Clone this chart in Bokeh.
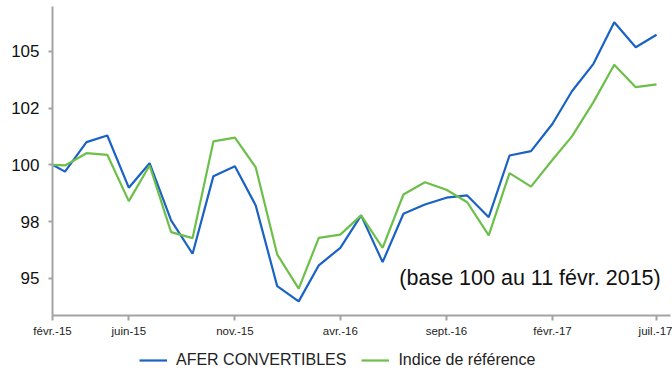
import pandas as pd
from bokeh.plotting import figure
from bokeh.models import FixedTicker, Legend, LegendItem, Label, Range1d
from bokeh.embed import file_html
from bokeh.resources import INLINE

# ---- data ----
dates = ["2015-02-11", "2015-03-01", "2015-04-01", "2015-05-01", "2015-06-01",
         "2015-07-01", "2015-08-01", "2015-09-01", "2015-10-01", "2015-11-01",
         "2015-12-01", "2016-01-01", "2016-02-01", "2016-03-01", "2016-04-01",
         "2016-05-01", "2016-06-01", "2016-07-01", "2016-08-01", "2016-09-01",
         "2016-10-01", "2016-11-01", "2016-12-01", "2017-01-01", "2017-02-01",
         "2017-03-01", "2017-04-01", "2017-05-01", "2017-06-01", "2017-07-01"]

afer = [100.0, 99.70, 101.00, 101.29, 98.99, 100.07, 97.55, 96.08, 99.50, 99.94,
        98.21, 94.65, 93.98, 95.57, 96.34, 97.77, 95.71, 97.84, 98.25, 98.55,
        98.65, 97.69, 100.41, 100.60, 101.81, 103.24, 104.45, 106.28, 105.18, 105.73]

indice = [100.0, 99.97, 100.51, 100.44, 98.40, 99.97, 97.03, 96.77, 101.03, 101.20,
          99.89, 96.05, 94.54, 96.78, 96.92, 97.77, 96.34, 98.69, 99.23, 98.90,
          98.35, 96.89, 99.63, 99.04, 100.22, 101.25, 102.76, 104.41, 103.42, 103.54]

tick_dates = ["2015-02-11", "2015-06-01", "2015-11-01", "2016-04-01",
              "2016-09-01", "2017-02-01", "2017-07-01"]
tick_labels = ["févr.-15", "juin-15", "nov.-15", "avr.-16",
               "sept.-16", "févr.-17", "juil.-17"]

y_ticks = [95, 97.5, 100, 102.5, 105]
y_tick_labels = ["95", "98", "100", "102", "105"]

series_names = ["AFER CONVERTIBLES", "Indice de référence"]
note = "(base 100 au 11 févr. 2015)"

# ---- derived positions (days since base date) ----
base = pd.Timestamp(dates[0])
x = [(pd.Timestamp(d) - base).days for d in dates]
xt = [(pd.Timestamp(d) - base).days for d in tick_dates]

FONT = "Liberation Sans"
BLUE = "#1a62c4"
GREEN = "#6cc04a"
AXIS = "#a3a3a3"

X_MIN, X_MAX = 0, 891
Y_MIN, Y_MAX = 93.36, 106.97

p = figure(width=672, height=371, output_backend="svg", toolbar_location=None,
           x_range=Range1d(-75, 894), y_range=Range1d(90.89, 107.24),
           min_border_left=0, min_border_right=0, min_border_top=0,
           min_border_bottom=0)
p.outline_line_color = None
p.grid.visible = False
p.background_fill_color = "white"
p.border_fill_color = "white"

r1 = p.line(x, afer, line_color=BLUE, line_width=2.2)
r2 = p.line(x, indice, line_color=GREEN, line_width=2.2)

# x axis (drawn at the bottom of the value range)
xa = p.xaxis[0]
xa.fixed_location = Y_MIN
xa.bounds = (X_MIN, X_MAX)
xa.ticker = FixedTicker(ticks=xt)
xa.major_label_overrides = {t: l for t, l in zip(xt, tick_labels)}
xa.axis_line_color = AXIS
xa.axis_line_width = 2
xa.major_tick_line_color = AXIS
xa.major_tick_line_width = 2
xa.major_tick_in = 0
xa.major_tick_out = 5
xa.minor_tick_line_color = None
xa.major_label_text_font = FONT
xa.major_label_text_font_size = "11.5px"
xa.major_label_text_color = "#222222"
xa.major_label_standoff = 5

# y axis (drawn at the first date)
ya = p.yaxis[0]
ya.fixed_location = X_MIN
ya.bounds = (Y_MIN, Y_MAX)
ya.ticker = FixedTicker(ticks=y_ticks)
ya.major_label_overrides = {t: l for t, l in zip(y_ticks, y_tick_labels)}
ya.axis_line_color = AXIS
ya.axis_line_width = 2
ya.major_tick_line_color = AXIS
ya.major_tick_line_width = 2
ya.major_tick_in = 0
ya.major_tick_out = 4
ya.minor_tick_line_color = None
ya.major_label_text_font = FONT
ya.major_label_text_font_size = "17px"
ya.major_label_text_color = "#111111"
ya.major_label_standoff = 9

legend = Legend(items=[LegendItem(label=series_names[0], renderers=[r1]),
                       LegendItem(label=series_names[1], renderers=[r2])],
                orientation="horizontal", location=(139, 2),
                label_text_font=FONT, label_text_font_size="16px",
                label_text_color="#222222",
                glyph_width=28, glyph_height=16, label_height=16,
                label_standoff=9, spacing=15, padding=0, margin=0,
                border_line_color=None, background_fill_alpha=0)
p.add_layout(legend, "center")

p.add_layout(Label(x=877, y=94.46, text=note, text_align="right",
                   text_font=FONT, text_font_size="21.5px", text_color="#111111"))

open("out.html", "w").write(file_html(p, INLINE))
